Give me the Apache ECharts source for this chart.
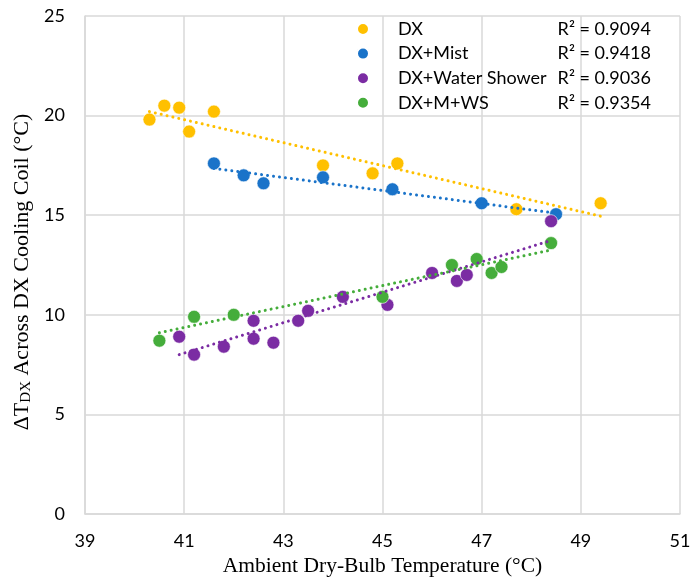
<!DOCTYPE html>
<html><head><meta charset="utf-8">
<script src="https://cdn.jsdelivr.net/npm/echarts@6/dist/echarts.min.js"></script>
<style>html,body{margin:0;padding:0;background:#fff}#c{width:692px;height:578px}</style>
</head><body><div id="c"></div>
<script>
// ---- data ----
const seriesNames = ['DX', 'DX+Mist', 'DX+Water Shower', 'DX+M+WS'];
const seriesColors = ['#FFC000', '#1A73C9', '#7B2CA3', '#45AD3B'];
const rSquared = ['0.9094', '0.9418', '0.9036', '0.9354'];

const dxX = [40.3, 40.6, 40.9, 41.1, 41.6, 43.8, 44.8, 45.3, 47.7, 49.4];
const dxY = [19.8, 20.5, 20.4, 19.2, 20.2, 17.5, 17.1, 17.6, 15.3, 15.6];

const mistX = [41.6, 42.2, 42.6, 43.8, 45.2, 47.0, 48.5];
const mistY = [17.6, 17.0, 16.6, 16.9, 16.3, 15.6, 15.05];

const wsX = [40.9, 41.2, 41.8, 42.4, 42.4, 42.8, 43.3, 43.5, 44.2, 45.1, 46.0, 46.5, 46.7, 48.4];
const wsY = [8.9, 8.0, 8.4, 9.7, 8.8, 8.6, 9.7, 10.2, 10.9, 10.5, 12.1, 11.7, 12.0, 14.7];

const mwsX = [40.5, 41.2, 42.0, 45.0, 46.4, 46.9, 47.2, 47.4, 48.4];
const mwsY = [8.7, 9.9, 10.0, 10.9, 12.5, 12.8, 12.1, 12.4, 13.6];

// trendline endpoints
const trendX = [[40.3, 49.4], [41.6, 48.5], [40.9, 48.4], [40.5, 48.4]];
const trendY = [[20.2, 14.95], [17.35, 15.1], [8.0, 13.73], [9.1, 13.25]];

const xTicks = {min: 39, max: 51, step: 2};
const yTicks = {min: 0, max: 25, step: 5};

// ---- build ----
const xs = [dxX, mistX, wsX, mwsX];
const ys = [dxY, mistY, wsY, mwsY];
const zip = (a, b) => a.map((v, i) => [v, b[i]]);

const series = [];
seriesNames.forEach((n, i) => {
  series.push({
    name: n + ' trend', type: 'line', data: zip(trendX[i], trendY[i]),
    showSymbol: false, symbol: 'none', silent: true, z: 3,
    lineStyle: {color: seriesColors[i], width: 3, type: [0.01, 6], cap: 'round'}
  });
});
seriesNames.forEach((n, i) => {
  series.push({
    name: n, type: 'scatter', data: zip(xs[i], ys[i]), symbolSize: 13, z: 2,
    itemStyle: {color: seriesColors[i], borderColor: '#fff', borderWidth: 0.6, opacity: 1}
  });
});

const chart = echarts.init(document.getElementById('c'), null, {renderer: 'canvas'});
chart.setOption({
  backgroundColor: '#fff',
  animation: false,
  grid: {left: 85, right: 12, top: 16, bottom: 64, containLabel: false, outerBoundsMode: 'none'},
  xAxis: {
    type: 'value', min: xTicks.min, max: xTicks.max, interval: xTicks.step,
    name: 'Ambient Dry-Bulb Temperature (°C)', nameLocation: 'middle', nameGap: 41,
    nameTextStyle: {fontFamily: 'Liberation Serif', fontSize: 21.5, color: '#000'},
    axisLine: {show: true, lineStyle: {color: '#d9d9d9', width: 1.5}},
    axisTick: {show: false},
    axisLabel: {fontFamily: 'Lato', fontSize: 18, color: '#000', margin: 18},
    splitLine: {show: true, lineStyle: {color: '#d9d9d9', width: 1.5}}
  },
  yAxis: {
    type: 'value', min: yTicks.min, max: yTicks.max, interval: yTicks.step,
    name: '{a|ΔT}{s|DX}{a| Across DX Cooling Coil (°C)}', nameLocation: 'middle', nameGap: 34,
    nameTextStyle: {fontFamily: 'Liberation Serif', fontSize: 22, color: '#000', padding: [0, 14, 0, 0],
      rich: {
        a: {fontFamily: 'Liberation Serif', fontSize: 22, color: '#000'},
        s: {fontFamily: 'Liberation Serif', fontSize: 15, color: '#000', verticalAlign: 'bottom', padding: [8, 0, 0, 0]}
      }},
    axisLine: {show: true, lineStyle: {color: '#d9d9d9', width: 1.5}},
    axisTick: {show: false},
    axisLabel: {fontFamily: 'Lato', fontSize: 18, color: '#000', margin: 20},
    splitLine: {show: true, lineStyle: {color: '#d9d9d9', width: 1.5}}
  },
  legend: {
    data: seriesNames.map(n => ({name: n, icon: 'circle'})),
    orient: 'vertical', left: 356, top: 20, padding: 0,
    itemWidth: 12, itemHeight: 12, itemGap: 6.6,
    selectedMode: false,
    formatter: name => {
      const i = seriesNames.indexOf(name);
      return '{g|}{n|' + name + '}{r|R² = ' + rSquared[i] + '}';
    },
    textStyle: {
      rich: {
        g: {width: 24, lineHeight: 17},
        n: {fontFamily: 'Lato', fontSize: 18, color: '#000', width: 163, lineHeight: 17},
        r: {fontFamily: 'Lato', fontSize: 18, color: '#000', width: 90, align: 'right', lineHeight: 17}
      }
    }
  },
  series: series
});
</script>
</body></html>
